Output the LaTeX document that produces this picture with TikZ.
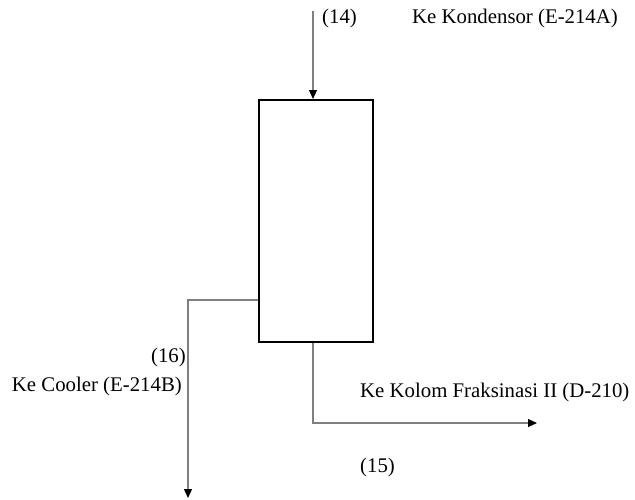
\documentclass[tikz,border=0pt]{standalone}
\usepackage{fontspec}
\setmainfont{Liberation Serif}
\usetikzlibrary{arrows.meta}
\begin{document}
\begin{tikzpicture}[x=1pt,y=-1pt,
  vessel/.style={draw=black,line width=1.6pt},
  stream/.style={draw=black!50,line width=1.2pt},
  flow/.style={stream,-{Triangle[width=8pt,length=9pt,color=black]}},
  lbl/.style={inner sep=0pt,font=\fontsize{20.8}{24}\selectfont}]
\useasboundingbox (0,0) rectangle (635,499);
% separator vessel
\node[vessel,minimum width=114pt,minimum height=242pt,inner sep=0pt,anchor=north west] (drum) at (258,99) {};
% free ends of the streams
\coordinate (in14) at (313,11);
\coordinate (bend16) at (188,300);
\coordinate (end16) at (188,498);
\coordinate (bend15) at (313,423);
\coordinate (end15) at (537,423);
% feed stream (14)
\draw[flow] (in14) -- (in14 |- drum.north);
% side draw to cooler (16)
\draw[flow] (drum.west |- bend16) -- (bend16) -- (end16);
% bottom stream to column (15)
\draw[flow] (bend15 |- drum.south) -- (bend15) -- (end15);
% labels
\node[lbl,anchor=west] (t14) at (322,18) {(14)};
\node[lbl,anchor=west] (tkond) at (412,18) {Ke Kondensor (E-214A)};
\node[lbl,anchor=east] (t16) at (186,357) {(16)};
\node[lbl,anchor=east] (tcool) at (182,386) {Ke Cooler (E-214B)};
\node[lbl,anchor=west] (tkol) at (360,392) {Ke Kolom Fraksinasi II (D-210)};
\node[lbl,anchor=west] (t15) at (360,467) {(15)};
\end{tikzpicture}
\end{document}
